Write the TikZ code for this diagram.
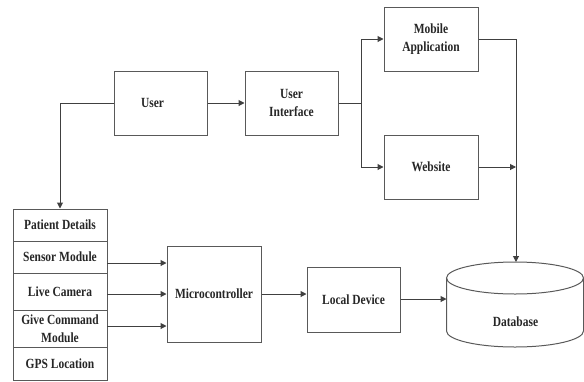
\documentclass[tikz,border=0pt]{standalone}
\usepackage{fontspec}
\newfontfamily\lab{Liberation Serif}[FakeStretch=0.82]
\usetikzlibrary{arrows.meta,calc}
\begin{document}
\begin{tikzpicture}[x=1pt,y=-1pt,
  lbl/.style={font=\lab\bfseries\fontsize{14}{18}\selectfont,text=black!85,align=center},
  box/.style={lbl,draw=black!65,line width=1pt,inner sep=0pt},
  ln/.style={draw=black!75,line width=1pt},
  arr/.style={ln,-{Triangle[length=6pt,width=6pt]}}]
\useasboundingbox (0,0) rectangle (584,381);
% boxes
\node[box,minimum width=93pt,minimum height=64pt] (user) at (160.5,103) {User\hspace{16pt}};
\node[box,minimum width=93pt,minimum height=64pt] (ui) at (291.5,103) {User\\Interface};
\node[box,minimum width=94pt,minimum height=64pt] (mob) at (431,39) {Mobile\\Application};
\node[box,minimum width=94pt,minimum height=64pt] (web) at (431,167) {Website};
\node[box,minimum width=94pt,minimum height=96pt] (mc) at (214,294) {Microcontroller};
\node[box,minimum width=93pt,minimum height=65pt] (ld) at (353.5,299.5) {Local Device};
% list
\node[box,minimum width=94pt,minimum height=32pt] (pd) at (60,225) {Patient Details};
\node[box,minimum width=94pt,minimum height=32pt] (sm) at (60,257) {Sensor Module};
\node[box,minimum width=94pt,minimum height=37pt] (lc) at (60,291.5) {Live Camera};
\node[box,minimum width=94pt,minimum height=37pt] (gc) at (60,328.5) {Give Command\\Module};
\node[box,minimum width=94pt,minimum height=33pt] (gps) at (60,363.5) {GPS Location};
% database
\draw[draw=black!65,line width=1pt] (515,278) ellipse [x radius=68.5,y radius=16];
\draw[draw=black!65,line width=1pt] (446.5,278) -- (446.5,331) arc[start angle=180,end angle=0,x radius=68.5,y radius=16] -- (583.5,278);
\node[lbl] (db) at (515.5,322) {Database};
\coordinate (dbtop) at (516,262);
\coordinate (dbleft) at (446.5,299);
% connectors
\draw[arr] (user.west) -| (pd.north);
\draw[arr] (user.east) -- (ui.west);
\coordinate (br) at (361,103);
\draw[ln] (ui.east) -- (br);
\draw[arr] (br) |- (mob.west);
\draw[arr] (br) |- (web.west);
\draw[arr] (mob.east) -| (dbtop);
\coordinate (wj) at (516,167);
\draw[arr] (web.east) -- (wj);
\coordinate (s1) at (107,263);
\coordinate (s2) at (107,294);
\coordinate (s3) at (107,326);
\draw[arr] (s1) -- (s1 -| mc.west);
\draw[arr] (s2) -- (s2 -| mc.west);
\draw[arr] (s3) -- (s3 -| mc.west);
\draw[arr] (mc.east) -- (mc.east -| ld.west);
\draw[arr] (ld.east |- dbleft) -- (dbleft);
\end{tikzpicture}
\end{document}
